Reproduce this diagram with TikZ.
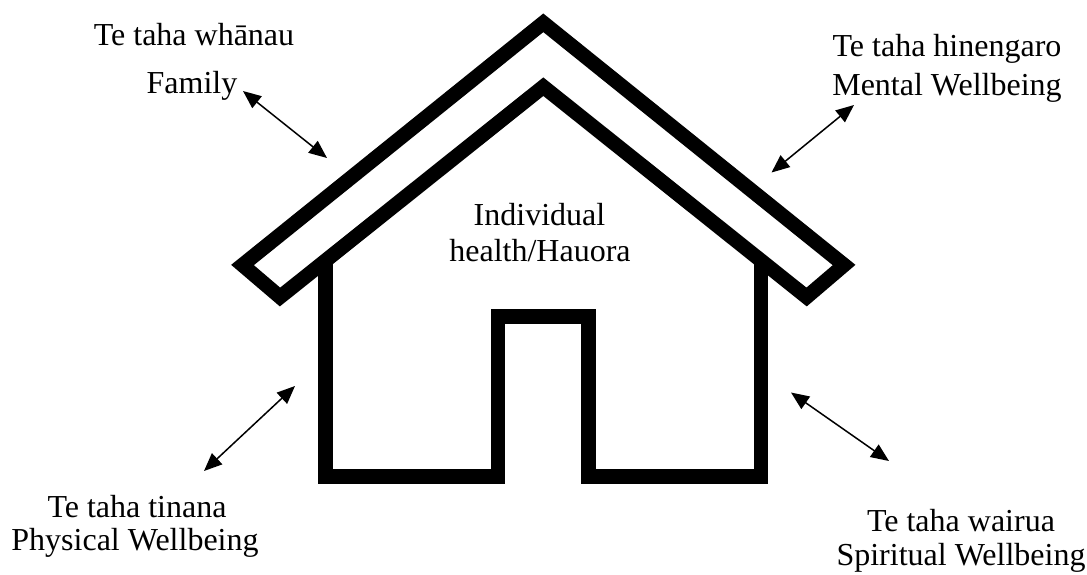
\documentclass[tikz,border=0pt]{standalone}
\usepackage{fontspec}
\setmainfont{Liberation Serif}
\usetikzlibrary{arrows.meta}
\begin{document}
\begin{tikzpicture}
          [x=0.5pt,y=-0.5pt,every node/.style={inner sep=0pt, anchor=base, font=\fontsize{16}{19}\selectfont},
           house/.style={line width=7.25pt, line join=miter},
           link/.style={line width=0.75pt, {Triangle[length=9pt,width=7.5pt]}-{Triangle[length=9pt,width=7.5pt]}}]
        \useasboundingbox (0,0) rectangle (1087,574);

        % roof
        \coordinate (r1) at (242.5,265);
        \coordinate (r2) at (543.3,22.8);
        \coordinate (r3) at (844.1,265);
        \coordinate (r4) at (806.6,297);
        \coordinate (r5) at (543.3,86.7);
        \coordinate (r6) at (280,297);
        \draw[house] (r1) -- (r2) -- (r3) -- (r4) -- (r5) -- (r6) -- cycle;

        % walls and door
        \coordinate (w1) at (325.5,261);
        \coordinate (w2) at (325.5,476.3);
        \coordinate (w3) at (498,476.3);
        \coordinate (w4) at (498,316.5);
        \coordinate (w5) at (588.6,316.5);
        \coordinate (w6) at (588.6,476.3);
        \coordinate (w7) at (761.1,476.3);
        \coordinate (w8) at (761.1,261);
        \draw[house] (w1) -- (w2) -- (w3) -- (w4) -- (w5) -- (w6) -- (w7) -- (w8);

        \node (n1) at (539.5,225) {Individual};
        \node (n2) at (540,261.7) {health/Hauora};
        \node (n3) at (194,45.7) {Te taha whānau};
        \node (n4) at (192,93.3) {Family};
        \node (n5) at (947,56.7) {Te taha hinengaro};
        \node (n6) at (947,95) {Mental Wellbeing};
        \node (n7) at (137,517) {Te taha tinana};
        \node (n8) at (135,550) {Physical Wellbeing};
        \node (n9) at (961,531) {Te taha wairua};
        \node (n10) at (961,565) {Spiritual Wellbeing};

        \coordinate (a1) at (243,91);
        \coordinate (a2) at (327,158);
        \coordinate (a3) at (854,105);
        \coordinate (a4) at (771.5,172.5);
        \coordinate (a5) at (295,386);
        \coordinate (a6) at (204,471);
        \coordinate (a7) at (791,392.5);
        \coordinate (a8) at (889,461);

        \foreach \from/\to in {a1/a2, a3/a4, a5/a6, a7/a8}
          \draw[link] (\from) -- (\to);
      \end{tikzpicture}
\end{document}
